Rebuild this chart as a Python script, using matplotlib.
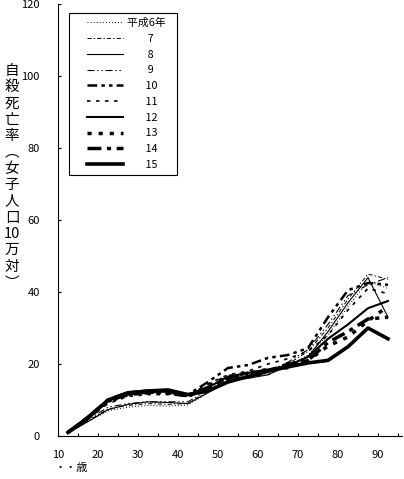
import matplotlib
matplotlib.use("Agg")
import matplotlib.pyplot as plt
from matplotlib.legend_handler import HandlerLine2D

plt.rcParams['font.family'] = ['Noto Sans CJK JP', 'DejaVu Sans']
plt.rcParams['lines.scale_dashes'] = False

# age group mid points (10-14, 15-19, ... 90-94)
ages = [12.5, 17.5, 22.5, 27.5, 32.5, 37.5, 42.5, 47.5, 52.5, 57.5,
        62.5, 67.5, 72.5, 77.5, 82.5, 87.5, 92.5]

labels = ['平成6年', '7', '8', '9', '10', '11', '12', '13', '14', '15']

h6 = [0.8, 4.0, 7.0, 8.0, 8.5, 8.3, 8.6, 12.0, 15.5, 16.0, 17.5, 19.5, 22.5, 28.0, 36.0, 43.0, 41.0]
h7 = [0.7, 4.2, 7.5, 8.5, 9.0, 8.8, 9.0, 12.5, 16.0, 16.5, 17.0, 20.0, 23.5, 30.0, 38.0, 45.0, 43.5]
h8 = [0.8, 4.0, 7.3, 8.8, 9.5, 9.3, 9.0, 12.0, 15.5, 16.0, 17.0, 19.5, 22.0, 29.0, 37.0, 44.0, 33.0]
h9 = [0.9, 4.5, 8.0, 9.0, 9.5, 9.5, 9.5, 12.8, 16.0, 16.5, 18.0, 20.5, 24.0, 31.0, 39.0, 42.0, 44.0]
h10 = [1.0, 5.0, 9.5, 11.5, 12.0, 12.0, 11.5, 15.0, 18.9, 19.7, 21.7, 22.5, 24.4, 33.0, 40.5, 42.5, 42.0]
h11 = [0.9, 5.0, 9.0, 11.0, 11.5, 11.5, 11.0, 14.5, 17.0, 18.0, 20.0, 21.5, 23.5, 28.0, 35.0, 41.0, 39.5]
h12 = [1.0, 5.5, 10.0, 11.5, 12.0, 12.5, 11.5, 13.5, 16.5, 17.5, 18.5, 19.5, 22.0, 27.0, 31.0, 35.5, 37.5]
h13 = [1.0, 5.0, 9.5, 11.5, 12.0, 12.0, 11.0, 14.0, 16.5, 17.5, 18.5, 19.0, 21.0, 25.0, 27.5, 32.0, 36.0]
h14 = [1.0, 5.2, 10.0, 12.0, 12.5, 12.5, 11.0, 13.5, 16.0, 17.5, 18.0, 20.0, 21.0, 26.0, 29.0, 32.5, 33.0]
h15 = [1.0, 5.0, 10.0, 12.0, 12.5, 12.8, 11.5, 12.5, 15.0, 16.5, 18.0, 19.2, 20.3, 21.0, 24.8, 30.0, 27.0]

series = [h6, h7, h8, h9, h10, h11, h12, h13, h14, h15]
styles = [
    dict(lw=0.7, ls=(0, (0.7, 1.5))),
    dict(lw=0.7, ls=(0, (3, 1.5, 1, 1.5))),
    dict(lw=0.8, ls='-'),
    dict(lw=0.8, ls=(0, (5, 2, 1, 2, 1, 2))),
    dict(lw=1.8, ls=(0, (7, 3, 2.5, 3, 2.5, 3))),
    dict(lw=1.2, ls=(0, (2.5, 4))),
    dict(lw=1.5, ls='-'),
    dict(lw=2.5, ls=(0, (3, 5))),
    dict(lw=2.5, ls=(0, (10, 4, 3, 4))),
    dict(lw=2.6, ls='-'),
]

fig = plt.figure(figsize=(4.04, 4.79), dpi=100)
ax = fig.add_axes([58 / 404, 1 - 436 / 479, 344 / 404, 432 / 479])

lines = []
for vals, lab, st in zip(series, labels, styles):
    ln, = ax.plot(ages, vals, color='black', **st)
    lines.append(ln)

ax.set_xlim(10, 96)
ax.set_ylim(0, 120)
ax.set_xticks(range(10, 96, 5))
ax.set_xticklabels([str(v) if v % 10 == 0 else '' for v in range(10, 96, 5)])
ax.set_yticks(range(0, 121, 20))
ax.tick_params(axis='both', direction='in', length=2, width=0.8, labelsize=8)
ax.tick_params(axis='x', pad=10)
ax.tick_params(axis='y', pad=13)
for s in ['top', 'right']:
    ax.spines[s].set_visible(False)
for s in ['left', 'bottom']:
    ax.spines[s].set_linewidth(0.8)

# numbers sit centred under "平成6年" in the original legend
fsp = '\u2007'
leg_labels = [labels[0] + fsp] + [(fsp * 3 + t) if len(t) == 1 else (fsp * 2 + '  ' + t) for t in labels[1:]]
leg = ax.legend(lines, leg_labels, loc='upper left', bbox_to_anchor=(0.032, 0.979),
                borderaxespad=0, fontsize=7.8, handlelength=4.5, handletextpad=0.4,
                labelspacing=0.53, borderpad=0.45, fancybox=False, framealpha=1,
                edgecolor='black', handler_map={ln: HandlerLine2D(xpad=1.2) for ln in lines})
leg.get_frame().set_linewidth(0.8)

# vertical y label, one character per row
ylab = ['自', '殺', '死', '亡', '率', '︵', '女', '子', '人', '口', '10', '万', '対', '︶']
for i, ch in enumerate(ylab):
    fig.text(12 / 404, 1 - (71 + 16.3 * i) / 479, ch, ha='center', va='center', fontsize=10.5)

fig.text(55 / 404, 1 - 468 / 479, '・・歳', ha='left', va='center', fontsize=8)

fig.savefig('out.png', dpi=100)
